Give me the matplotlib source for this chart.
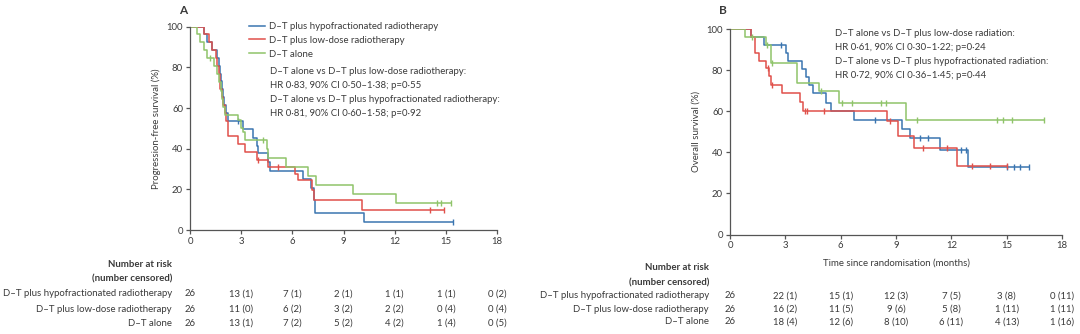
import numpy as np
import matplotlib
matplotlib.use("Agg")
import matplotlib.pyplot as plt
from matplotlib.lines import Line2D
from matplotlib import transforms

plt.rcParams['font.family'] = ['Lato', 'DejaVu Sans']

# ---------------- data ----------------
groups = ["D\u2013T plus hypofractionated radiotherapy",
          "D\u2013T plus low-dose radiotherapy",
          "D\u2013T alone"]
xticks = [0, 3, 6, 9, 12, 15, 18]
yticks = [0, 20, 40, 60, 80, 100]

# Panel A: progression-free survival (step curves)
pfs_hypo_t = [0, 0.8, 1.0, 1.3, 1.6, 1.7, 1.75, 1.8, 1.9, 1.95, 2.0, 2.1, 2.2, 3.1, 3.7, 3.9, 4.0, 4.55, 4.7, 6.6, 7.1, 7.25, 7.35, 10.2, 15.4]
pfs_hypo_s = [100, 96.2, 92.3, 88.5, 84.6, 80.8, 76.9, 73.1, 69.2, 65.4, 61.5, 57.7, 53.8, 49.8, 45.4, 41.3, 37.8, 33.4, 29.0, 25.0, 20.5, 15.0, 8.2, 4.1, 4.1]
pfs_hypo_c = [2.8, 15.4]

pfs_low_t = [0, 0.8, 1.1, 1.3, 1.5, 1.6, 1.7, 1.77, 1.85, 1.95, 2.05, 2.12, 2.2, 2.8, 3.2, 3.95, 4.6, 6.15, 6.35, 7.13, 7.25, 10.1, 14.9]
pfs_low_s = [100, 96.2, 92.3, 88.5, 84.6, 80.8, 76.9, 69.2, 65.4, 61.5, 57.7, 53.8, 46.2, 42.3, 38.5, 34.6, 30.8, 27.3, 24.6, 19.7, 15.0, 9.9, 9.9]
pfs_low_c = [4.0, 5.15, 14.1, 14.9]

pfs_alone_t = [0, 0.4, 0.6, 0.8, 1.0, 1.4, 1.6, 1.7, 1.8, 1.9, 1.95, 2.05, 2.8, 3.0, 3.1, 3.2, 4.5, 4.6, 5.6, 6.9, 7.4, 9.55, 12.1, 15.3]
pfs_alone_s = [100, 96.2, 92.3, 88.5, 84.6, 80.6, 76.6, 72.6, 68.5, 64.5, 60.5, 56.4, 53.9, 50.0, 48.0, 44.3, 40.0, 35.5, 31.0, 26.6, 22.2, 17.7, 13.3, 13.3]
pfs_alone_c = [1.15, 4.3, 14.5, 14.7, 15.3]

# Panel B: overall survival
os_hypo_t = [0, 1.15, 1.85, 3.05, 3.15, 3.9, 4.1, 4.3, 4.5, 5.2, 5.5, 6.7, 9.3, 9.76, 11.4, 12.9, 16.2]
os_hypo_s = [100, 96.2, 92.3, 88.3, 84.4, 80.5, 76.6, 72.7, 68.8, 64.3, 60.1, 56.0, 51.4, 46.9, 41.1, 32.8, 32.8]
os_hypo_c = [2.75, 7.85, 10.3, 10.75, 12.55, 12.8, 15.0, 15.4, 15.7, 16.2]

os_low_t = [0, 1.15, 1.35, 1.55, 1.95, 2.1, 2.2, 2.8, 3.8, 3.95, 8.5, 9.1, 9.95, 12.3, 15.0]
os_low_s = [100, 96.2, 88.5, 84.6, 81.0, 77.1, 72.8, 68.8, 64.5, 60.1, 55.5, 48.2, 42.0, 33.6, 33.6]
os_low_c = [2.05, 2.3, 4.05, 4.2, 5.1, 8.65, 10.45, 11.75, 13.1, 14.1, 15.0]

os_alone_t = [0, 0.8, 1.95, 2.2, 3.65, 4.85, 5.9, 9.55, 17.0]
os_alone_s = [100, 96.2, 92.3, 83.6, 74.0, 70.0, 63.9, 55.9, 55.9]
os_alone_c = [1.2, 2.0, 2.3, 4.95, 6.05, 6.6, 8.2, 8.45, 10.15, 14.5, 14.8, 15.3, 17.0]

# Number at risk (number censored)
risk_A = [["26", "13 (1)", "7 (1)", "2 (1)", "1 (1)", "1 (1)", "0 (2)"],
          ["26", "11 (0)", "6 (2)", "3 (2)", "2 (2)", "0 (4)", "0 (4)"],
          ["26", "13 (1)", "7 (2)", "5 (2)", "4 (2)", "1 (4)", "0 (5)"]]
risk_B = [["26", "22 (1)", "15 (1)", "12 (3)", "7 (5)", "3 (8)", "0 (11)"],
          ["26", "16 (2)", "11 (5)", "9 (6)", "5 (8)", "1 (11)", "1 (11)"],
          ["26", "18 (4)", "12 (6)", "8 (10)", "6 (11)", "4 (13)", "1 (16)"]]

stats_A = ["D\u2013T alone vs D\u2013T plus low-dose radiotherapy:",
           "HR 0\u00b783, 90% CI 0\u00b750\u20131\u00b738; p=0\u00b755",
           "D\u2013T alone vs D\u2013T plus hypofractionated radiotherapy:",
           "HR 0\u00b781, 90% CI 0\u00b760\u20131\u00b758; p=0\u00b792"]
stats_B = ["D\u2013T alone vs D\u2013T plus low-dose radiation:",
           "HR 0\u00b761, 90% CI 0\u00b730\u20131\u00b722; p=0\u00b724",
           "D\u2013T alone vs D\u2013T plus hypofractionated radiation:",
           "HR 0\u00b772, 90% CI 0\u00b736\u20131\u00b745; p=0\u00b744"]

colors = ["#3a75b0", "#e0504a", "#8fc46a"]
text_c = "#3a3a3a"
axis_c = "#555555"
FS = 6.9

# ---------------- figure ----------------
W, H = 1080, 334
fig = plt.figure(figsize=(W / 100, H / 100), dpi=100)

def fx(x):
    return x / W

def fy(y):
    return 1 - y / H

axA = fig.add_axes([fx(190), fy(230), fx(497) - fx(190), fy(26.7) - fy(230)])
axB = fig.add_axes([fx(730), fy(234.5), fx(1062) - fx(730), fy(29.3) - fy(234.5)])

def step_val(t, s, c):
    idx = np.searchsorted(t, c, side='right') - 1
    return np.asarray(s)[idx]

def draw_curve(ax, t, s, c, col):
    ax.step(t, s, where='post', color=col, lw=1.1)
    ax.plot(c, step_val(t, s, c), linestyle='none', marker='|', ms=5,
            mew=1.0, color=col)

def style_axis(ax, ylabel):
    ax.set_xlim(0, 18)
    ax.set_ylim(0, 100)
    ax.set_xticks(xticks)
    ax.set_yticks(yticks)
    for sp in ['top', 'right']:
        ax.spines[sp].set_visible(False)
    for sp in ['left', 'bottom']:
        ax.spines[sp].set_color(axis_c)
        ax.spines[sp].set_linewidth(0.9)
    ax.tick_params(direction='out', length=3, width=0.9, color=axis_c,
                   labelsize=FS, labelcolor=text_c, pad=2)
    ax.set_ylabel(ylabel, fontsize=FS, color=text_c, labelpad=4)

# Panel A curves
draw_curve(axA, pfs_hypo_t, pfs_hypo_s, pfs_hypo_c, colors[0])
draw_curve(axA, pfs_low_t, pfs_low_s, pfs_low_c, colors[1])
draw_curve(axA, pfs_alone_t, pfs_alone_s, pfs_alone_c, colors[2])
style_axis(axA, "Progression-free survival (%)")

# Panel B curves
draw_curve(axB, os_hypo_t, os_hypo_s, os_hypo_c, colors[0])
draw_curve(axB, os_low_t, os_low_s, os_low_c, colors[1])
draw_curve(axB, os_alone_t, os_alone_s, os_alone_c, colors[2])
style_axis(axB, "Overall survival (%)")
axB.set_xlabel("Time since randomisation (months)", fontsize=FS, color=text_c, labelpad=6)

# panel letters
fig.text(fx(179), fy(10), "A", fontsize=8.5, fontweight='bold', color=text_c, va='center', ha='left')
fig.text(fx(719), fy(10), "B", fontsize=8.5, fontweight='bold', color=text_c, va='center', ha='left')

# legend in A
handles = [Line2D([0], [0], color=c, lw=1.1) for c in colors]
leg = axA.legend(handles, groups, loc='upper left', bbox_to_anchor=(fx(249), fy(22)),
                 bbox_transform=fig.transFigure, frameon=False, fontsize=FS,
                 handlelength=1.7, handletextpad=0.4, labelspacing=0.5,
                 borderpad=0, borderaxespad=0)
for t in leg.get_texts():
    t.set_color(text_c)

for i, line in enumerate(stats_A):
    fig.text(fx(270), fy(72 + i * 13.8), line, fontsize=FS, color=text_c, va='center', ha='left')
for i, line in enumerate(stats_B):
    fig.text(fx(835), fy(33 + i * 14), line, fontsize=FS, color=text_c, va='center', ha='left')

# risk tables
def risk_table(ax, rows, label_x, y_head, y_rows):
    tr = transforms.blended_transform_factory(ax.transData, fig.transFigure)
    fig.text(fx(label_x), fy(y_head), "Number at risk", fontsize=FS, fontweight='bold',
             color=text_c, ha='right', va='center')
    fig.text(fx(label_x), fy(y_head + 14.5), "(number censored)", fontsize=FS, fontweight='bold',
             color=text_c, ha='right', va='center')
    for g, row, yy in zip(groups, rows, y_rows):
        fig.text(fx(label_x), fy(yy), g, fontsize=FS, color=text_c, ha='right', va='center')
        for xt, val in zip(xticks, row):
            ax.text(xt, fy(yy), val, transform=tr, fontsize=FS, color=text_c,
                    ha='center', va='center')

risk_table(axA, risk_A, 172, 264.5, [294, 309, 323])
risk_table(axB, risk_B, 709, 268, [296, 309.5, 322])

fig.savefig("out.png", dpi=100)
